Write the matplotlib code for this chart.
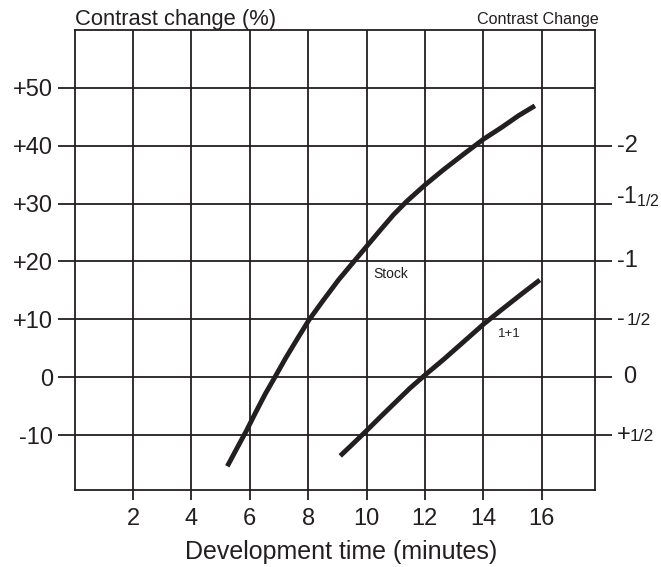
import matplotlib
matplotlib.use("Agg")
import matplotlib.pyplot as plt
import matplotlib.transforms as mtransforms

plt.rcParams['font.family'] = ['Liberation Sans', 'DejaVu Sans']

INK = '#231f20'

# ---- data ----
stock_x = [5.23, 5.59, 5.88, 6.18, 6.53, 6.86, 7.23, 7.65, 8.03, 8.52, 9.04,
           9.62, 10.02, 10.47, 10.93, 11.38, 12.0, 12.65, 13.37, 14.0, 14.64,
           15.21, 15.77]
stock_y = [-15.4, -12.0, -9.3, -6.3, -2.9, 0.0, 3.3, 6.8, 9.9, 13.3, 16.8,
           20.3, 22.7, 25.4, 28.1, 30.4, 33.2, 35.9, 38.7, 41.1, 43.2,
           45.2, 46.9]

one_x = [9.10, 9.56, 9.97, 10.47, 10.98, 11.49, 12.0, 12.65, 13.37, 14.02,
         14.64, 15.32, 15.94]
one_y = [-13.6, -11.4, -9.4, -6.9, -4.4, -1.9, 0.35, 3.1, 6.3, 9.2,
         11.7, 14.4, 16.8]

x_ticks = [2, 4, 6, 8, 10, 12, 14, 16]
x_ticklabels = ['2', '4', '6', '8', '10', '12', '14', '16']
y_ticks = [50, 40, 30, 20, 10, 0, -10]
y_ticklabels = ['+50', '+40', '+30', '+20', '+10', '0', '-10']

# right-hand contrast-grade scale
right_vals = [40, 30, 20, 10, 0, -10]
right_big = ['-2', '-1', '-1', '-', '0', '+']
right_small = ['', '1/2', '', '1/2', '', '1/2']

fig = plt.figure(figsize=(6.61, 5.67), dpi=100)
L, R, T, B = 74.7, 595.0, 30.0, 490.0
W, H = 661.0, 567.0
ax = fig.add_axes([L / W, 1 - B / H, (R - L) / W, (B - T) / H])

ax.set_xlim(0, 17.83)
ax.set_ylim(-19.5, 60.0)

ax.plot(stock_x, stock_y, color=INK, lw=3.5, solid_capstyle='butt',
        solid_joinstyle='round', zorder=3)
ax.plot(one_x, one_y, color=INK, lw=3.5, solid_capstyle='butt',
        solid_joinstyle='round', zorder=3)

ax.set_xticks(x_ticks)
ax.set_xticklabels(x_ticklabels)
ax.set_yticks(y_ticks)
ax.set_yticklabels(y_ticklabels)

ax.grid(True, color=INK, lw=1.3)
for s in ax.spines.values():
    s.set_color(INK)
    s.set_linewidth(1.3)

ax.tick_params(axis='y', left=True, right=False, direction='out',
               length=12.5, width=1.3, color=INK, labelsize=17, pad=3,
               labelcolor=INK)
ax.tick_params(axis='x', direction='out', length=7, width=1.3, color=INK,
               labelsize=17, pad=6, labelcolor=INK)

# right-side ticks (only at the grade values)
ax2 = ax.twinx()
ax2.set_ylim(ax.get_ylim())
ax2.set_yticks(right_vals)
ax2.set_yticklabels([])
ax2.tick_params(axis='y', right=True, direction='out', length=12.5,
                width=1.3, color=INK)
for s in ax2.spines.values():
    s.set_visible(False)

ax.set_xlabel('Development time (minutes)', fontsize=18, color=INK)
ax.xaxis.set_label_coords(0.512, -0.108)

# right-side labels
tr = mtransforms.blended_transform_factory(ax.transAxes, ax.transData)
def px2ax(px):
    return (px - L) / (R - L)

big_left_px = [617.3, 617.3, 617.3, 617.3, 623.0, 617.3]
small_left_px = [0, 0, 0, 626.7, 0, 629.3]
for v, big, small, bx, sx in zip(right_vals, right_big, right_small,
                                 big_left_px, small_left_px):
    if big == '-1' and small:
        ax.text(px2ax(659.5), v, big + r'$_{\mathregular{' + small + '}}$',
                transform=tr, ha='right', va='baseline', fontsize=16.5,
                color=INK, clip_on=False)
        continue
    ax.text(px2ax(bx), v, big, transform=tr, ha='left', va='center',
            fontsize=17, color=INK, clip_on=False)
    if small:
        ax.text(px2ax(sx), v - 0.2, small, transform=tr, ha='left',
                va='center', fontsize=12.5, color=INK, clip_on=False)

# curve labels
ax.text(10.23, 17.78, 'Stock', fontsize=10, color=INK, ha='left', va='center')
ax.text(14.5, 7.46, '1+1', fontsize=9.5, color=INK, ha='left', va='center')

# top titles
fig.text(74.7 / W, 1 - 24.5 / H, 'Contrast change (%)', fontsize=15.8,
         color=INK, ha='left', va='baseline')
fig.text(598.3 / W, 1 - 24 / H, 'Contrast Change', fontsize=11.6,
         color=INK, ha='right', va='baseline')

fig.savefig('out.png', dpi=100)
